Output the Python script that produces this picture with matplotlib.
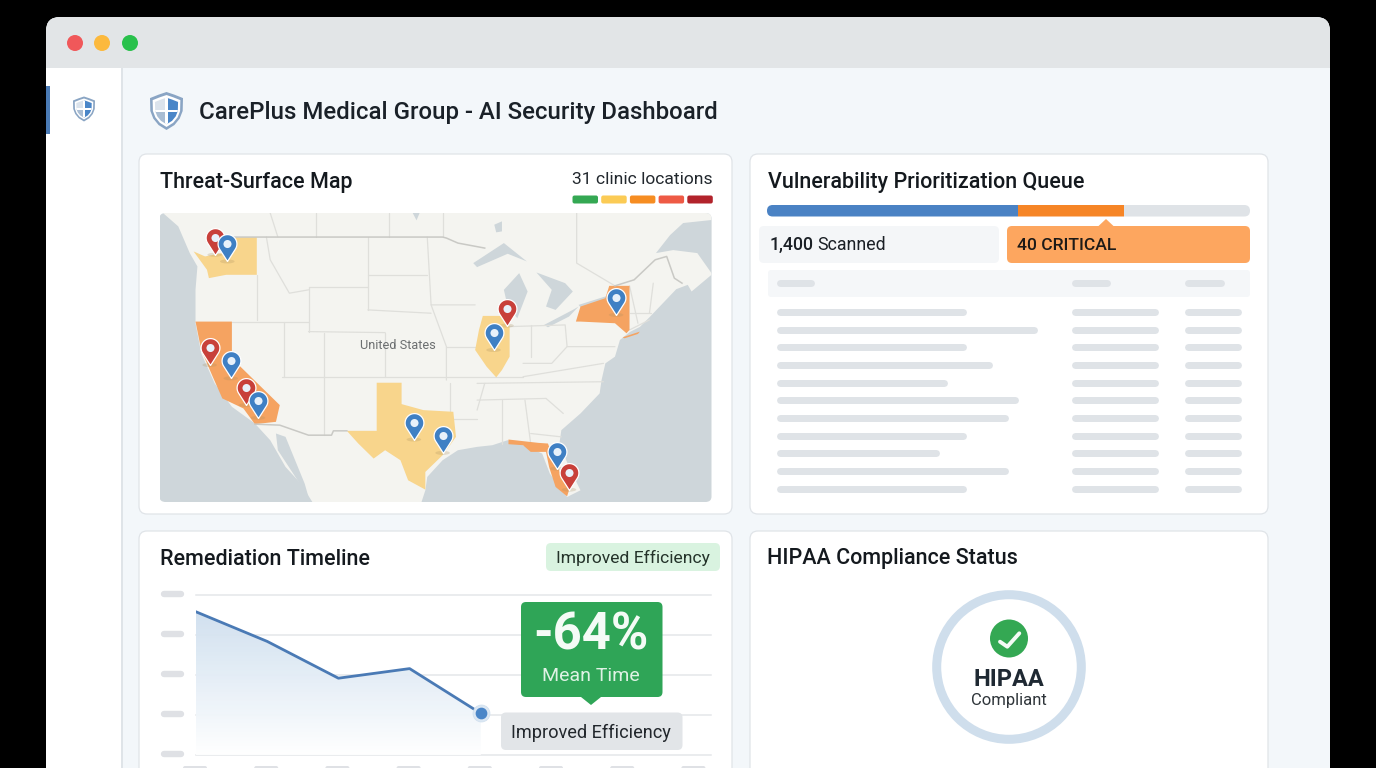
import numpy as np
import matplotlib
matplotlib.use('Agg')
import matplotlib.pyplot as plt
from matplotlib.patches import FancyBboxPatch, Polygon, Circle, Rectangle, Ellipse
from matplotlib.path import Path

plt.rcParams['font.family'] = ['Roboto', 'DejaVu Sans']

W, H = 1376, 768

# --- data ---
title = 'CarePlus Medical Group - AI Security Dashboard'
legend_colors = ['#34a853', '#fbcb55', '#f68d22', '#ee5a45', '#b2232b']

# remediation timeline
month_idx = [0, 1, 2, 3, 4]
mean_time = [89.5, 71, 48, 54, 26]
grid_vals = [0, 25, 50, 75, 100]
tick_idx = [0, 1, 2, 3, 4, 5, 6, 7]

# queue progress bar, percent of width
scan_share = [52, 22, 26]
scan_colors = ['#4a82c4', '#f68526', '#dfe3e7']

# queue skeleton rows, px width of the first column
row_widths = [189, 260, 189, 215, 170, 241, 231, 189, 162, 231, 189]

# map pins, tip position in map units
pin_x = [195, 228, 182, 237, 277, 308, 715, 790, 957, 923, 1243, 1089, 1120]
pin_y = [315, 335, 645, 685, 765, 803, 868, 908, 527, 600, 495, 955, 1018]
pin_kind = ['r', 'b', 'r', 'b', 'r', 'b', 'b', 'b', 'r', 'b', 'b', 'b', 'r']

# map shapes, in map units
land = [(60, 190), (1492, 190), (1492, 375), (1440, 425), (1430, 405), (1400, 418),
        (1331, 501), (1305, 531), (1279, 546), (1253, 570), (1240, 620), (1215, 640), (1205, 690), (1200, 730),
        (1150, 790), (1100, 840), (1095, 880), (1120, 950), (1150, 1020), (1115, 1040), (1070, 970), (1050, 910),
        (1000, 885), (960, 870), (920, 885), (880, 890), (830, 900), (790, 930), (750, 980), (745, 1020), (735, 1055),
        (450, 1055), (420, 1000), (380, 950), (340, 870), (300, 820), (240, 770), (195, 700), (160, 610), (145, 520),
        (145, 420), (150, 350), (130, 310), (100, 230)]
st_lawrence = [(1347, 310), (1384, 256), (1418, 220), (1492, 211), (1492, 370), (1455, 310), (1392, 301)]
gulf_california = [(355, 850), (380, 860), (430, 1000), (440, 1040), (400, 970), (360, 900)]
lakes = [
    [(870, 340), (950, 280), (1010, 335), (960, 312), (880, 352)],
    [(960, 470), (950, 420), (990, 370), (1012, 425), (985, 505)],
    [(1035, 368), (1110, 400), (1130, 425), (1085, 480), (1060, 470), (1075, 420)],
    [(1055, 525), (1130, 480), (1145, 470), (1120, 500), (1065, 532)],
    [(1145, 465), (1220, 438), (1215, 455), (1150, 472)],
    [(925, 225), (945, 215), (945, 245), (930, 248)],
    [(712, 190), (730, 190), (722, 212)],
]
states_yellow = [
    [(240, 262), (305, 262), (305, 375), (225, 375), (180, 385), (175, 360), (140, 305), (170, 320), (215, 310)],
    [(618, 698), (683, 698), (683, 762), (740, 780), (818, 785), (825, 860), (790, 915), (745, 965), (745, 1018),
     (700, 990), (680, 930), (640, 900), (610, 925), (570, 880), (540, 842), (618, 842)],
    [(895, 498), (955, 498), (965, 530), (965, 620), (945, 660), (930, 682), (905, 650), (875, 600), (885, 540)],
]
states_orange = [
    [(145, 515), (240, 515), (240, 625), (365, 765), (355, 815), (300, 822), (270, 775), (215, 745), (190, 680),
     (160, 600)],
    [(1138, 515), (1150, 470), (1215, 445), (1225, 408), (1278, 408), (1278, 540), (1270, 550), (1240, 520),
     (1150, 515)],
    [(1260, 562), (1305, 545), (1300, 552), (1265, 565)],
    [(962, 868), (1040, 878), (1065, 880), (1085, 940), (1120, 1020), (1115, 1038), (1085, 1010), (1068, 950),
     (1060, 905), (1020, 905), (1000, 885), (962, 882)],
]
borders = [
    [(595, 262), (595, 480)], [(595, 375), (750, 375)], [(595, 480), (760, 490)], [(305, 375), (305, 510)],
    [(440, 410), (440, 545)], [(440, 410), (595, 410)], [(240, 515), (440, 515)], [(440, 545), (640, 548)],
    [(640, 548), (640, 680)], [(375, 515), (375, 680)], [(370, 680), (1000, 680)], [(480, 548), (480, 855)],
    [(750, 262), (760, 465), (875, 465)], [(760, 465), (800, 590), (800, 690)], [(800, 590), (880, 590)],
    [(880, 700), (1210, 695)], [(810, 700), (810, 800)], [(810, 808), (880, 808)], [(945, 750), (945, 880)],
    [(1005, 750), (1020, 880)], [(880, 780), (900, 700)], [(880, 750), (1060, 745)], [(1060, 745), (1105, 790)],
    [(1020, 850), (1100, 860)], [(965, 530), (1110, 525), (1115, 590), (1240, 590)], [(1020, 525), (1020, 620)],
    [(1115, 590), (1075, 640), (1000, 640)], [(1000, 680), (1210, 640)], [(1278, 408), (1300, 520)],
    [(1340, 400), (1330, 490)], [(1280, 490), (1335, 490)], [(1278, 540), (1330, 510)], [(460, 190), (460, 262)],
    [(650, 190), (650, 262)], [(790, 190), (790, 262)], [(1140, 190), (1140, 340), (1240, 408)],
    [(340, 190), (360, 262)], [(330, 262), (340, 330), (390, 430), (440, 420)],
]
intl_border = [
    [(240, 262), (790, 262), (800, 265), (830, 280), (900, 295)],
    [(300, 822), (365, 825), (440, 855), (500, 855), (505, 842), (540, 842)],
    [(1240, 408), (1290, 390), (1345, 330), (1375, 320), (1395, 385), (1415, 400)],
]


def px_axes(x0, y0, x1, y1, **kw):
    ax = fig.add_axes([x0 / W, 1 - y1 / H, (x1 - x0) / W, (y1 - y0) / H], **kw)
    ax.axis('off')
    return ax


def rbox(ax, x0, y0, x1, y1, r, fc, ec='none', lw=0, z=1):
    p = FancyBboxPatch((x0, y0), x1 - x0, y1 - y0, boxstyle=f'round,pad=0,rounding_size={r}',
                       fc=fc, ec=ec, lw=lw, zorder=z)
    ax.add_patch(p)
    return p


def shield(ax, cx, cy, w, h):
    unit = [(0, -.5), (.24, -.43), (.5, -.34), (.49, 0), (.4, .2), (.24, .37), (0, .5),
            (-.24, .37), (-.4, .2), (-.49, 0), (-.5, -.34), (-.24, -.43)]
    def pts(s):
        return [(cx + x * w * s, cy + y * h * s) for x, y in unit]
    ax.add_patch(Polygon(pts(1), fc='#8aa5c4', ec='none', zorder=3))
    ax.add_patch(Polygon(pts(.84), fc='white', ec='none', zorder=3))
    inner = Polygon(pts(.7), fc='none', ec='none', zorder=3)
    ax.add_patch(inner)
    quads = [(cx - w, cy - h, '#dbe3ec'), (cx, cy - h, '#4a86c8'), (cx - w, cy, '#a9bdd3'), (cx, cy, '#4a86c8')]
    for qx, qy, c in quads:
        q = Rectangle((qx, qy), w, h, fc=c, ec='none', zorder=3)
        ax.add_patch(q)
        q.set_clip_path(inner)
    gap = w * 0.035
    for r in (Rectangle((cx - gap, cy - h), 2 * gap, 2 * h, fc='white', ec='none', zorder=3),
              Rectangle((cx - w, cy - gap), 2 * w, 2 * gap, fc='white', ec='none', zorder=3)):
        ax.add_patch(r)
        r.set_clip_path(inner)


fig = plt.figure(figsize=(W / 100, H / 100), dpi=100, facecolor='black')

# --- window chrome, px coordinates ---
base = px_axes(0, 0, W, H, zorder=0)
base.set_xlim(0, W)
base.set_ylim(H, 0)

rbox(base, 46, 17, 1330, 820, 14, '#f3f7fa')
title_bar = rbox(base, 46, 17, 1330, 90, 14, '#e2e5e7', z=2)
base.add_patch(Rectangle((46, 68), 1284, 30, fc='#f3f7fa', ec='none', zorder=3))
base.add_patch(Rectangle((46, 68), 75, 720, fc='white', ec='none', zorder=3))
base.add_patch(Rectangle((121, 68), 1.5, 720, fc='#dfe4e8', ec='none', zorder=3))
base.add_patch(Rectangle((46, 86), 4, 48, fc='#4a7ab5', ec='none', zorder=4))
for cx, c in zip([75, 102, 130], ['#f0585a', '#fcb93d', '#29c14c']):
    base.add_patch(Circle((cx, 43), 8, fc=c, ec='none', zorder=4))

shield(base, 84, 109, 22, 25)
shield(base, 166.5, 111, 33, 38)
base.text(199, 113, title, fontsize=17.3, fontweight=500, color='#1a2128', va='center', zorder=5)

# --- cards ---
card_boxes = [(139, 154, 732, 514), (750, 154, 1268, 514), (139, 531, 732, 820), (750, 531, 1268, 820)]
for x0, y0, x1, y1 in card_boxes:
    rbox(base, x0, y0, x1, y1, 8, 'white', ec='#e0e4e8', lw=0.9, z=4)

base.text(159.5, 182.5, 'Threat-Surface Map', fontsize=15.5, fontweight=500, color='#14191e', va='center', zorder=5)
base.text(768, 182.5, 'Vulnerability Prioritization Queue', fontsize=15.5, fontweight=500, color='#14191e', va='center', zorder=5)
base.text(159.5, 559.5, 'Remediation Timeline', fontsize=15.5, fontweight=500, color='#14191e', va='center', zorder=5)
base.text(767, 558.5, 'HIPAA Compliance Status', fontsize=15.5, fontweight=500, color='#14191e', va='center', zorder=5)

# threat map header
base.text(713, 180, '31 clinic locations', fontsize=12.6, color='#22282e', va='center', ha='right', zorder=5)
for i, c in enumerate(legend_colors):
    rbox(base, 572.5 + i * 28.7, 195.5, 598 + i * 28.7, 203.5, 2, c, z=5)

# --- map ---
mp = px_axes(159.5, 213, 711.5, 502, zorder=1)
mp.set_xlim(51, 1492)
mp.set_ylim(1055, 190)
water = rbox(mp, 51, 190, 1492, 1055, 16, '#ced6da')
clip_shape = water
artists = [Polygon(land, fc='#f4f4f0', ec='none', zorder=2), Polygon(gulf_california, fc='#ced6da', ec='none', zorder=3),
           Polygon(st_lawrence, fc='#ced6da', ec='none', zorder=3)]
for lk in lakes:
    artists.append(Polygon(lk, fc='#ced6da', ec='none', zorder=3))
for st in states_yellow:
    artists.append(Polygon(st, fc='#f8d58c', ec='none', zorder=5))
for st in states_orange:
    artists.append(Polygon(st, fc='#f5a361', ec='none', zorder=5))
for a in artists:
    mp.add_patch(a)
    a.set_clip_path(clip_shape)
for seg in borders:
    xs, ys = zip(*seg)
    mp.plot(xs, ys, color='#dfdfdb', lw=0.9, zorder=4, solid_capstyle='round')
for seg in intl_border:
    xs, ys = zip(*seg)
    mp.plot(xs, ys, color='#c9c9c5', lw=1.1, zorder=6)
mp.text(673, 588, 'United States', fontsize=9.2, color='#6b6e70', ha='center', va='center', zorder=7)

# pin marker, tip at the origin
theta = np.linspace(-32.6, 212.6, 40) * np.pi / 180
pin_verts = [(0, 0)] + [(0.35 * np.cos(t), 0.65 + 0.35 * np.sin(t)) for t in theta] + [(0, 0)]
pin_path = Path(pin_verts)
circ = Path.circle((0, 0.65), 0.15)
dot_path = Path.make_compound_path(Path([(0, 1)], [Path.MOVETO]), circ)

pin_colors = {'r': '#c8403a', 'b': '#3f80c4'}
for x, y in zip(pin_x, pin_y):
    mp.add_patch(Ellipse((x, y), 38, 12, fc='#a98f5e', alpha=0.25, ec='none', zorder=7))
for x, y, k in zip(pin_x, pin_y, pin_kind):
    mp.scatter([x], [y], marker=pin_path, s=1500, c=pin_colors[k], edgecolors='white', linewidths=0.9, zorder=8, clip_on=False)
    mp.scatter([x], [y], marker=dot_path, s=1500, c='#e8f1fa', linewidths=0, zorder=8, clip_on=False)

# --- queue ---
bar_clip = rbox(base, 767, 205, 1250, 216.5, 5.7, 'none')
bar_ax = px_axes(767, 205, 1250, 216.5, zorder=1)
bar_ax.set_xlim(0, 100)
bar_ax.set_ylim(0, 1)
left = 0
for share, c in zip(scan_share, scan_colors):
    bars = bar_ax.barh(0.5, share, left=left, height=1, color=c, zorder=2)
    bars[0].set_clip_path(bar_clip)
    left += share

rbox(base, 759, 226, 999, 263, 5, '#f4f6f8', z=5)
rbox(base, 1007, 226, 1250, 263, 5, '#fda65f', z=5)
base.add_patch(Polygon([(1098, 226.5), (1106, 219), (1114, 226.5)], fc='#fda65f', ec='none', zorder=5))
base.text(770, 245, '1,400', fontsize=12.8, fontweight=500, color='#1b2026', va='center', zorder=6)
base.text(817.5, 245, 'Scanned', fontsize=12.8, color='#1b2026', va='center', zorder=6)
base.text(1017, 245, '40 CRITICAL', fontsize=12.6, fontweight=500, color='#1d1a17', va='center', zorder=6)

rbox(base, 768, 270, 1250, 297, 3, '#f5f7f9', z=5)
skel = '#dfe3e7'
base.hlines([283] * 3, [780, 1075, 1188], [811, 1107, 1221], color=skel, lw=5, capstyle='round', zorder=6)
row_ys = [312.3, 330, 347.3, 365, 382.7, 400, 418, 435.7, 453.3, 471, 488.7]
for y, w in zip(row_ys, row_widths):
    base.hlines([y] * 3, [780, 1075, 1188], [777 + w - 3, 1155, 1238], color=skel, lw=5, capstyle='round', zorder=6)

# --- remediation timeline ---
rbox(base, 546, 543, 720, 571, 5, '#d9f3e0', z=5)
base.text(633, 558, 'Improved Efficiency', fontsize=12.6, color='#24332a', ha='center', va='center', zorder=6)

tl = px_axes(196, 595, 711, 755, zorder=1)
tl.set_xlim(0, 515 / 71.2)
tl.set_ylim(0, 100)
for v in grid_vals:
    tl.axhline(v, color='#e4e7ea', lw=1.1, zorder=1, clip_on=False)

grad = np.linspace(0, 1, 256).reshape(-1, 1)
cmap = matplotlib.colors.LinearSegmentedColormap.from_list('fade', ['#ffffff', '#e6eff7', '#cfdfef'])
im = tl.imshow(grad, extent=[0, 4, 0, max(mean_time)], origin='lower', aspect='auto', cmap=cmap, zorder=2, alpha=0.95)
fill = Polygon(list(zip(month_idx, mean_time)) + [(month_idx[-1], 0), (0, 0)], transform=tl.transData, fc='none', ec='none')
tl.add_patch(fill)
im.set_clip_path(fill)
tl.set_xlim(0, 515 / 71.2)
tl.set_ylim(0, 100)
tl.plot(month_idx, mean_time, color='#4a7ab5', lw=2, zorder=3, solid_joinstyle='round')
tl.scatter(month_idx[-1], mean_time[-1], s=150, c='#dbe7f3', edgecolors='#cfdfee', lw=0.5, zorder=3, clip_on=False)
tl.scatter(month_idx[-1], mean_time[-1], s=55, c='#4a86c8', zorder=4, clip_on=False)

# y and x axis label placeholders
base.hlines([594, 634, 674, 714, 754], 164, 181, color='#dfe1e5', lw=4.6, capstyle='round', zorder=6)
for i in tick_idx:
    p = 195 + 71.2 * i
    rbox(base, p - 12, 766, p + 12, 780, 2, '#dfe1e5', z=6)

# callouts sit above the timeline axes
top = px_axes(0, 0, W, H, zorder=3)
top.set_xlim(0, W)
top.set_ylim(H, 0)
rbox(top, 521, 602, 662.5, 697, 5, '#2fa557', z=2)
top.add_patch(Polygon([(581, 697), (591, 705), (601, 697)], fc='#2fa557', ec='none', zorder=2))
top.text(591, 636, '-64%', fontsize=36.5, fontweight='bold', color='#f4fbf6', ha='center', va='center', zorder=3)
top.text(591, 676, 'Mean Time', fontsize=14, color='#dff2e5', ha='center', va='center', zorder=3)
rbox(top, 501, 712.5, 682.5, 750, 5, '#e2e5e8', z=2)
top.text(591, 733, 'Improved Efficiency', fontsize=13.1, color='#22272c', ha='center', va='center', zorder=3)

# --- hipaa badge ---
base.add_patch(Circle((1009, 667), 72.3, fc='white', ec='#cfdeec', lw=6.5, zorder=5))
base.add_patch(Circle((1009, 638.5), 19, fc='#34a853', ec='none', zorder=6))
base.plot([1000, 1007.3, 1019.3], [641.7, 646.7, 633.3], color='#f4fbf6', lw=2.8, zorder=7, solid_capstyle='round')
base.text(1009, 679, 'HIPAA', fontsize=17, fontweight='bold', color='#1f2933', ha='center', va='center', zorder=6)
base.text(1009, 701, 'Compliant', fontsize=12, color='#2f353a', ha='center', va='center', zorder=6)

fig.savefig('out.png', dpi=100, facecolor='black')
